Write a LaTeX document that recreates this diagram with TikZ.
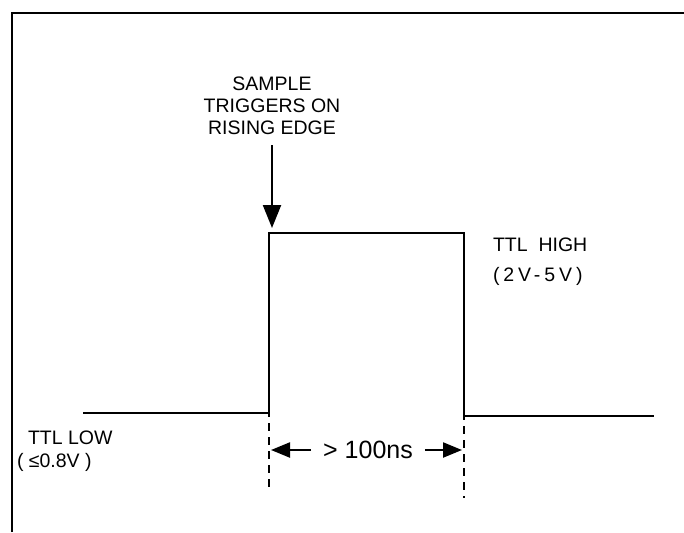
\documentclass[tikz,border=0pt]{standalone}
\usepackage{fontspec}
\setmainfont{Liberation Sans}
\usetikzlibrary{arrows.meta, positioning}

\begin{document}
\begin{tikzpicture}[
      x=1pt, y=-1pt,
      every node/.style={font=\fontsize{19.5}{22}\selectfont, inner sep=0pt, outer sep=0pt},
      wave/.style={line width=2.2pt, line join=miter},
      guide/.style={line width=2.2pt, dash pattern=on 8pt off 6pt},
      arr/.style={-{Triangle[length=19pt, width=15pt]}, line width=2.2pt},
      trigarr/.style={-{Triangle[length=23pt, width=18pt]}, line width=2.2pt}
   ]
   \useasboundingbox (0,0) rectangle (684,532);
   \draw[line width=2.2pt] (12,532) -- (12,13) -- (684,13);
   \coordinate (lowL) at (83,413);
   \coordinate (riseB) at (269,413);
   \coordinate (riseT) at (269,233);
   \coordinate (fallT) at (464,233);
   \coordinate (fallB) at (464,416);
   \coordinate (lowR) at (654,416);
   \coordinate (riseE) at (269,488);
   \coordinate (fallE) at (464,498);
   \draw[wave] (lowL) -- (riseB) -- (riseT) -- (fallT) -- (fallB) -- (lowR);
   \draw[guide] ([yshift=4pt]riseB) -- (riseE);
   \draw[guide] ([yshift=4pt]fallB) -- (fallE);
   \node (trig) [anchor=south, align=center, inner ysep=10pt] at (272,145) {SAMPLE\\TRIGGERS ON\\RISING EDGE};
   \coordinate (trigtip) at (272,228);
   \draw[trigarr] (trig) -- (trigtip);
   \node (high) [anchor=north west, align=left, font=\fontsize{19.5}{30}\selectfont] at (493,238)
      {TTL\ \ HIGH\\{\addfontfeature{LetterSpace=20}(2V-5V)}};
   \node (low) [anchor=north west] at (28,431) {TTL LOW};
   \node (lowv) [below=9pt of low.south west, anchor=north west, xshift=-11pt] {( ≤0.8V )};
   \node (dur) [inner xsep=12pt, font=\fontsize{25}{30}\selectfont] at (368,450) {> 100ns};
   \coordinate (durL) at (271,450);
   \coordinate (durR) at (462,450);
   \draw[arr] (dur) -- (durL);
   \draw[arr] (dur) -- (durR);
\end{tikzpicture}
\end{document}
